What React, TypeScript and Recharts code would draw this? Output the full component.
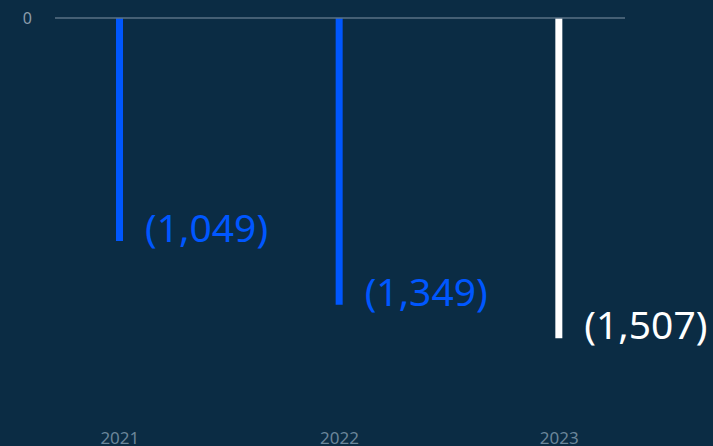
import React from 'react';
import { BarChart, Bar, XAxis, YAxis, ReferenceLine, LabelList, Cell } from 'recharts';

const years = ['2021', '2022', '2023'];
const values = [-1049, -1349, -1507];
const barColors = ['#0057ff', '#0057ff', '#ffffff'];

const BG = '#0b2c44';
const FONT = "'Noto Sans', sans-serif";

const data = years.map((year, i) => ({ year, value: values[i] }));

const fmt = (v: number) => `(${Math.abs(v).toLocaleString('en-US')})`;

const ValueLabel = (props: any) => {
  const { x, y, width, height, value, index } = props;
  const bottom = Math.max(y, y + height);
  return (
    <text x={x + width + 22} y={bottom + 1} fill={barColors[index]} fontSize={39} fontFamily={FONT}>
      {fmt(value)}
    </text>
  );
};

const YearTick = (props: any) => {
  const { x, y, payload } = props;
  return (
    <text x={x} y={y + 12} fill="#6a8599" fontSize={17} fontFamily={FONT} textAnchor="middle">
      {payload.value}
    </text>
  );
};

const ZeroTick = (props: any) => {
  const { x, y, payload } = props;
  return (
    <text x={x} y={y + 6} fill="#8b9cab" fontSize={16} fontFamily={FONT} textAnchor="end">
      {payload.value}
    </text>
  );
};

export default function App() {
  return (
    <div style={{ position: 'absolute', left: 0, top: 0, width: 713, height: 446, background: BG }}>
      <BarChart
        width={713}
        height={446}
        data={data}
        margin={{ top: 18, right: 88, bottom: 0, left: 0 }}
      >
        {/* band axis reaches past the plot edges so the bars spread wider than the zero line */}
        <XAxis
          dataKey="year"
          axisLine={false}
          tickLine={false}
          height={22}
          padding={{ left: -45, right: -44 }}
          tick={<YearTick />}
        />
        <YAxis
          width={55}
          domain={[-1910, 0]}
          ticks={[0]}
          axisLine={false}
          tickLine={false}
          tickMargin={17}
          tick={<ZeroTick />}
        />
        <ReferenceLine y={0} stroke="#5a7085" strokeWidth={1.5} />
        <Bar dataKey="value" barSize={7} isAnimationActive={false}>
          {data.map((d, i) => (
            <Cell key={d.year} fill={barColors[i]} />
          ))}
          <LabelList dataKey="value" content={<ValueLabel />} />
        </Bar>
      </BarChart>
    </div>
  );
}
